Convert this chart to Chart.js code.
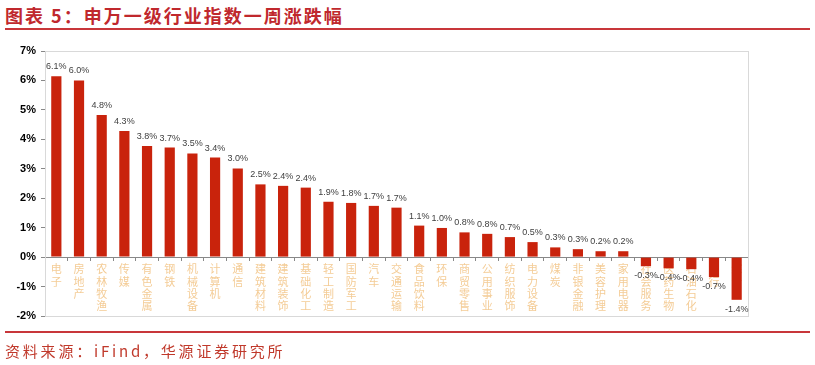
<!DOCTYPE html>
<html>
<head>
<meta charset="utf-8">
<script src="https://cdn.jsdelivr.net/npm/chart.js@4"></script>
<style>
  body { margin: 0; width: 815px; height: 365px; background: #fff; overflow: hidden; position: relative; font-family: "Noto Sans CJK SC", sans-serif; }
  .title { position: absolute; left: 5px; top: 2px; font-size: 18px; font-weight: bold; color: #c0282d; letter-spacing: 2px; }
  .rule { position: absolute; left: 5px; width: 805px; height: 2px; background: #c8363a; }
  .source { position: absolute; left: 5px; top: 340px; font-size: 15px; color: #c0392b; letter-spacing: 2.8px; }
  #wrap { position: absolute; left: 0; top: 0; width: 815px; height: 365px; }
</style>
</head>
<body>
<div class="title">图表 5：申万一级行业指数一周涨跌幅</div>
<div class="rule" style="top:28px"></div>
<div id="wrap"><canvas id="chart"></canvas></div>
<div class="rule" style="top:331px"></div>
<div class="source">资料来源：iFind，华源证券研究所</div>

<script>
// 申万一级行业 weekly change (%)
const industries = ['电子', '房地产', '农林牧渔', '传媒', '有色金属', '钢铁', '机械设备', '计算机', '通信',
    '建筑材料', '建筑装饰', '基础化工', '轻工制造', '国防军工', '汽车', '交通运输', '食品饮料', '环保',
    '商贸零售', '公用事业', '纺织服饰', '电力设备', '煤炭', '非银金融', '美容护理', '家用电器',
    '社会服务', '医药生物', '石油石化', '银行', '综合'];
const weeklyChange = [6.14, 6.0, 4.83, 4.28, 3.77, 3.72, 3.52, 3.38, 3.01,
    2.47, 2.42, 2.36, 1.88, 1.84, 1.74, 1.68, 1.07, 0.99,
    0.84, 0.79, 0.68, 0.51, 0.33, 0.27, 0.2, 0.2,
    -0.31, -0.38, -0.41, -0.68, -1.45];
const yTicks = [-2, -1, 0, 1, 2, 3, 4, 5, 6, 7];

// gray box round the plot area
const frameBox = {
    id: 'frameBox',
    beforeDatasetsDraw(chart) {
        const a = chart.chartArea, ctx = chart.ctx;
        ctx.save();
        ctx.strokeStyle = '#d9d9d9';
        ctx.lineWidth = 1;
        ctx.strokeRect(Math.round(a.left) + 0.5, Math.round(a.top) + 0.5, Math.round(a.right - a.left), Math.round(a.bottom - a.top));
        ctx.restore();
    }
};

// value labels above / below bars
const valueLabels = {
    id: 'valueLabels',
    afterDatasetsDraw(chart) {
        const ctx = chart.ctx;
        const meta = chart.getDatasetMeta(0);
        ctx.save();
        ctx.font = '9px "Liberation Sans", Arial, sans-serif';
        ctx.fillStyle = '#404040';
        ctx.textAlign = 'center';
        meta.data.forEach((bar, i) => {
            const v = weeklyChange[i];
            const txt = v.toFixed(1) + '%';
            if (v >= 0) {
                ctx.textBaseline = 'bottom';
                ctx.fillText(txt, bar.x, bar.y - 5);
            } else {
                ctx.textBaseline = 'top';
                ctx.fillText(txt, bar.x, bar.y + 5);
            }
        });
        ctx.restore();
    }
};

new Chart(document.getElementById('chart'), {
    type: 'bar',
    data: {
        labels: industries.map(s => s.split('')),
        datasets: [{
            data: weeklyChange,
            backgroundColor: '#c9230c',
            barPercentage: 0.45,
            categoryPercentage: 1
        }]
    },
    options: {
        responsive: true,
        maintainAspectRatio: false,
        animation: false,
        layout: { padding: { left: 0, top: 51, right: 67, bottom: 49 } },
        plugins: { legend: { display: false }, tooltip: { enabled: false } },
        scales: {
            x: {
                position: { y: 0 },
                grid: { display: true, offset: true, drawOnChartArea: false, drawTicks: true, tickLength: 3, color: '#888' },
                border: { display: true, color: '#888', width: 1 },
                ticks: {
                    autoSkip: false, maxRotation: 0, padding: 3,
                    color: '#f4cc96',
                    font: { size: 11, family: '"Noto Sans CJK SC", sans-serif', lineHeight: 1.12 }
                }
            },
            y: {
                min: -2, max: 7,
                afterFit(scale) { scale.width = 45; },
                afterBuildTicks(scale) { scale.ticks = yTicks.map(v => ({ value: v })); },
                grid: { display: true, drawOnChartArea: false, drawTicks: true, tickLength: 4, color: '#888' },
                border: { display: true, color: '#888', width: 1 },
                ticks: {
                    padding: 5,
                    color: '#000',
                    font: { size: 11, weight: 'bold', family: '"Liberation Sans", Arial, sans-serif' },
                    callback: v => v + '%'
                }
            }
        }
    },
    plugins: [frameBox, valueLabels]
});
</script>
</body>
</html>
